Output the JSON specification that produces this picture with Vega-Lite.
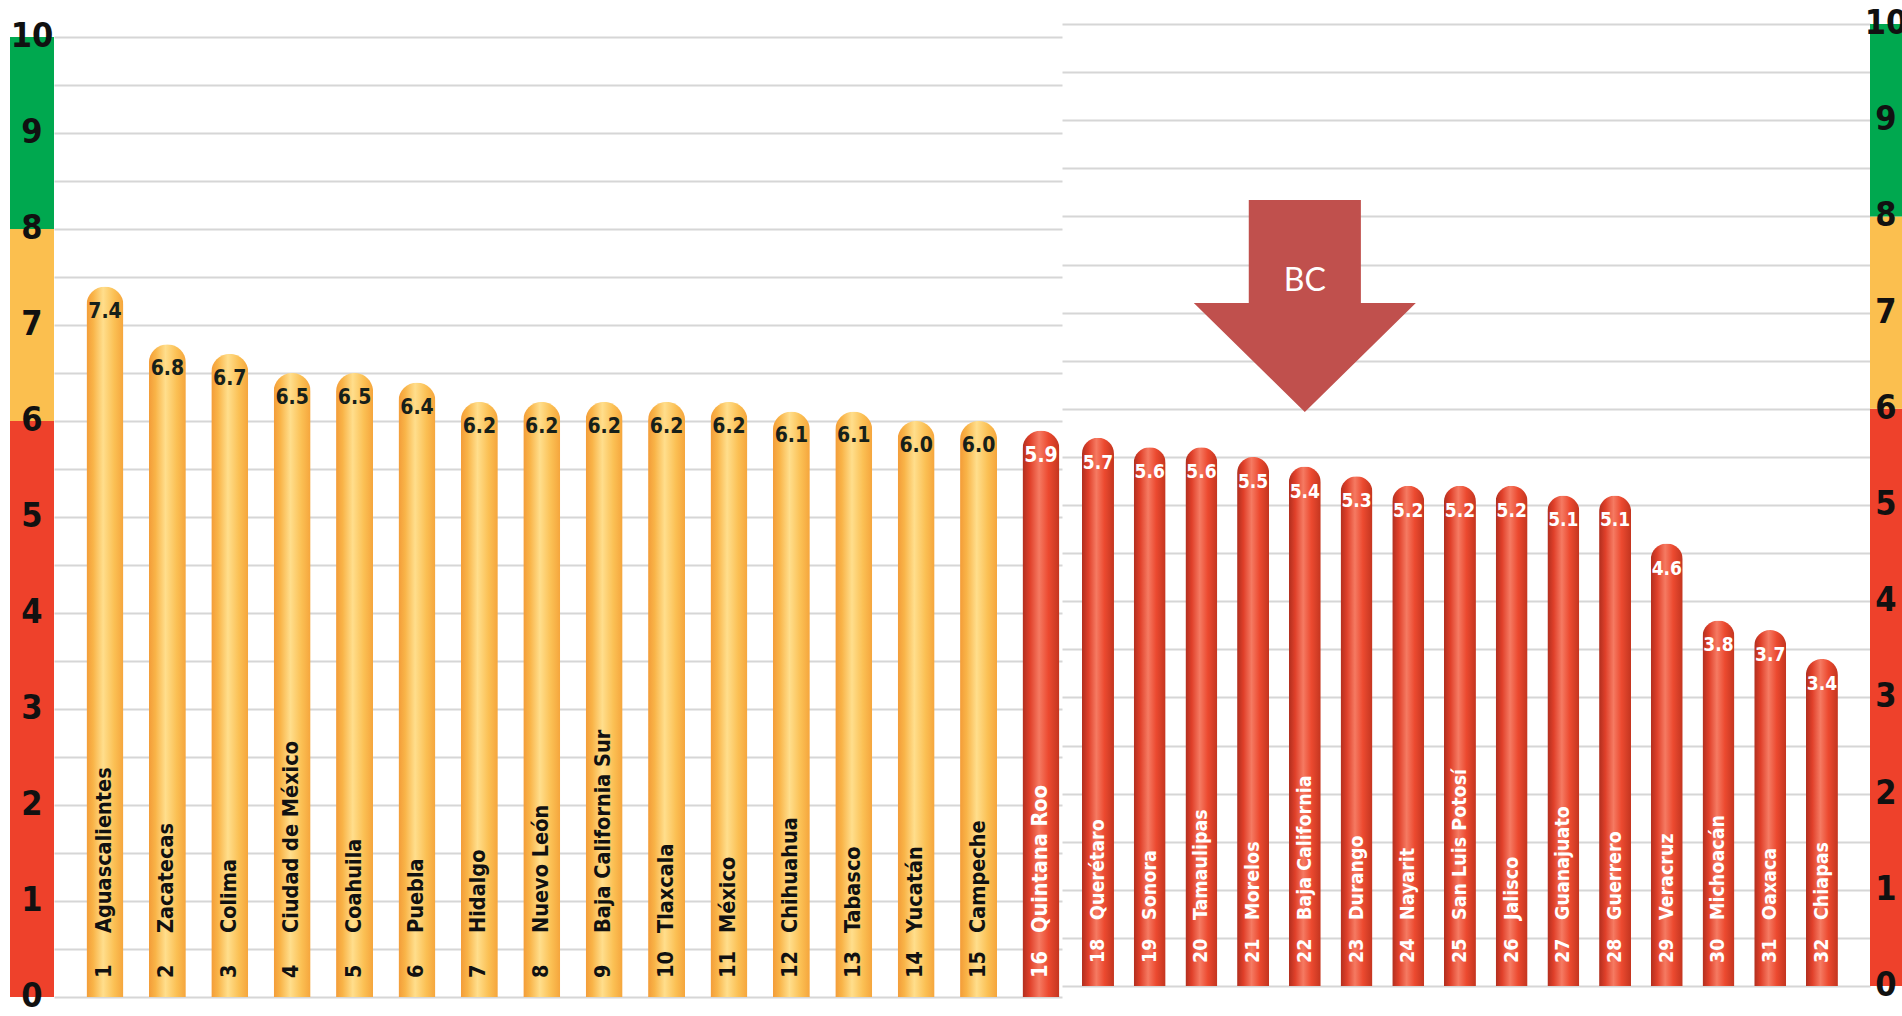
{
  "$schema": "https://vega.github.io/schema/vega-lite/v6.json",
  "padding": {"left": 10, "top": 0, "right": 0, "bottom": 0},
  "autosize": {"type": "pad"},
  "background": "white",
  "spacing": 0,
  "bounds": "flush",
  "config": {"view": {"stroke": null}, "concat": {"spacing": 0}},
  "datasets": {
    "left": [
      {"rank": 1, "state": "Aguascalientes", "value": 7.4},
      {"rank": 2, "state": "Zacatecas", "value": 6.8},
      {"rank": 3, "state": "Colima", "value": 6.7},
      {"rank": 4, "state": "Ciudad de México", "value": 6.5},
      {"rank": 5, "state": "Coahuila", "value": 6.5},
      {"rank": 6, "state": "Puebla", "value": 6.4},
      {"rank": 7, "state": "Hidalgo", "value": 6.2},
      {"rank": 8, "state": "Nuevo León", "value": 6.2},
      {"rank": 9, "state": "Baja California Sur", "value": 6.2},
      {"rank": 10, "state": "Tlaxcala", "value": 6.2},
      {"rank": 11, "state": "México", "value": 6.2},
      {"rank": 12, "state": "Chihuahua", "value": 6.1},
      {"rank": 13, "state": "Tabasco", "value": 6.1},
      {"rank": 14, "state": "Yucatán", "value": 6.0},
      {"rank": 15, "state": "Campeche", "value": 6.0},
      {"rank": 16, "state": "Quintana Roo", "value": 5.9}
    ],
    "right": [
      {"rank": 18, "state": "Querétaro", "value": 5.7},
      {"rank": 19, "state": "Sonora", "value": 5.6},
      {"rank": 20, "state": "Tamaulipas", "value": 5.6},
      {"rank": 21, "state": "Morelos", "value": 5.5},
      {"rank": 22, "state": "Baja California", "value": 5.4},
      {"rank": 23, "state": "Durango", "value": 5.3},
      {"rank": 24, "state": "Nayarit", "value": 5.2},
      {"rank": 25, "state": "San Luis Potosí", "value": 5.2},
      {"rank": 26, "state": "Jalisco", "value": 5.2},
      {"rank": 27, "state": "Guanajuato", "value": 5.1},
      {"rank": 28, "state": "Guerrero", "value": 5.1},
      {"rank": 29, "state": "Veracruz", "value": 4.6},
      {"rank": 30, "state": "Michoacán", "value": 3.8},
      {"rank": 31, "state": "Oaxaca", "value": 3.7},
      {"rank": 32, "state": "Chiapas", "value": 3.4}
    ],
    "bands": [
      {"lo": 0, "hi": 6, "zone": "rojo"},
      {"lo": 6, "hi": 8, "zone": "amarillo"},
      {"lo": 8, "hi": 10, "zone": "verde"}
    ],
    "ticks": [
      {"v": 0}, {"v": 1}, {"v": 2}, {"v": 3}, {"v": 4}, {"v": 5},
      {"v": 6}, {"v": 7}, {"v": 8}, {"v": 9}, {"v": 10}
    ],
    "arrow": [
      {"rank": 22, "value": 7.07, "label": "BC"}
    ],
    "arrowText": [
      {"rank": 22, "value": 7.33, "label": "BC"}
    ]
  },
  "hconcat": [
    {
      "width": 44,
      "height": 997,
      "layer": [
        {
          "data": {"name": "bands"},
          "mark": {"type": "rect"},
          "encoding": {
            "y": {"field": "lo", "type": "quantitative", "scale": {"domain": [0, 10.385], "nice": false, "zero": false}, "axis": null},
            "y2": {"field": "hi"},
            "color": {"field": "zone", "type": "nominal", "scale": {"domain": ["rojo", "amarillo", "verde"], "range": ["#EE412B", "#FBBF4F", "#00A84F"]}, "legend": null}
          }
        },
        {
          "data": {"name": "ticks"},
          "mark": {"type": "text", "font": "DejaVu Sans Condensed, sans-serif", "fontWeight": "bold", "fontSize": 34, "color": "#111111", "baseline": "middle", "align": "center"},
          "encoding": {
            "y": {"field": "v", "type": "quantitative", "scale": {"domain": [0, 10.385], "nice": false, "zero": false}, "axis": null},
            "text": {"field": "v", "type": "quantitative", "format": "d"}
          }
        }
      ]
    },
    {
      "width": 1008,
      "height": 997,
      "data": {"name": "left"},
      "encoding": {
        "x": {"field": "rank", "type": "quantitative", "scale": {"domain": [0.183, 16.337], "nice": false, "zero": false, "padding": 0}, "axis": null},
        "y": {"field": "value", "type": "quantitative", "scale": {"domain": [0, 10.385], "nice": false, "zero": false},
              "axis": {"values": [0, 0.5, 1, 1.5, 2, 2.5, 3, 3.5, 4, 4.5, 5, 5.5, 6, 6.5, 7, 7.5, 8, 8.5, 9, 9.5, 10], "grid": true, "gridColor": "#D6D6D6", "gridWidth": 2, "labels": false, "ticks": false, "domain": false, "title": null, "minExtent": 0, "maxExtent": 0}}
      },
      "layer": [
        {
          "transform": [{"filter": "datum.value >= 6"}],
          "mark": {"type": "bar", "width": 37, "cornerRadiusTopLeft": 18.5, "cornerRadiusTopRight": 18.5,
                   "color": {"gradient": "linear", "x1": 0, "x2": 1, "y1": 0, "y2": 0, "stops": [
                     {"offset": 0, "color": "#F39C38"}, {"offset": 0.18, "color": "#F9B448"}, {"offset": 0.45, "color": "#FFDE8C"}, {"offset": 0.75, "color": "#FBC054"}, {"offset": 1, "color": "#F5A53C"}]}}
        },
        {
          "transform": [{"filter": "datum.value < 6"}],
          "mark": {"type": "bar", "width": 37, "cornerRadiusTopLeft": 18.5, "cornerRadiusTopRight": 18.5,
                   "color": {"gradient": "linear", "x1": 0, "x2": 1, "y1": 0, "y2": 0, "stops": [
                     {"offset": 0, "color": "#B02E1E"}, {"offset": 0.2, "color": "#E0402A"}, {"offset": 0.45, "color": "#F57A62"}, {"offset": 0.7, "color": "#EC4A30"}, {"offset": 1, "color": "#C3351F"}]}}
        },
        {
          "mark": {"type": "text", "font": "DejaVu Sans Condensed, sans-serif", "fontWeight": "bold", "fontSize": 21, "baseline": "middle", "align": "center", "dy": 25},
          "encoding": {
            "text": {"field": "value", "type": "quantitative", "format": ".1f"},
            "color": {"condition": {"test": "datum.value >= 6", "value": "#16201a"}, "value": "#ffffff"}
          }
        },
        {
          "mark": {"type": "text", "font": "DejaVu Sans Condensed, sans-serif", "fontWeight": "bold", "fontSize": 21.5, "baseline": "middle", "align": "left", "angle": 270, "dx": 19},
          "encoding": {
            "y": {"datum": 0},
            "text": {"field": "rank", "type": "nominal"},
            "color": {"condition": {"test": "datum.value >= 6", "value": "#111111"}, "value": "#ffffff"}
          }
        },
        {
          "mark": {"type": "text", "font": "DejaVu Sans Condensed, sans-serif", "fontWeight": "bold", "fontSize": 21.5, "baseline": "middle", "align": "left", "angle": 270, "dx": 64},
          "encoding": {
            "y": {"datum": 0},
            "text": {"field": "state", "type": "nominal"},
            "color": {"condition": {"test": "datum.value >= 6", "value": "#111111"}, "value": "#ffffff"}
          }
        }
      ]
    },
    {
      "width": 808,
      "height": 986,
      "data": {"name": "right"},
      "encoding": {
        "x": {"field": "rank", "type": "quantitative", "scale": {"domain": [17.304, 32.93], "nice": false, "zero": false, "padding": 0}, "axis": null},
        "y": {"field": "value", "type": "quantitative", "scale": {"domain": [0, 10.25], "nice": false, "zero": false},
              "axis": {"values": [0, 0.5, 1, 1.5, 2, 2.5, 3, 3.5, 4, 4.5, 5, 5.5, 6, 6.5, 7, 7.5, 8, 8.5, 9, 9.5, 10], "grid": true, "gridColor": "#D6D6D6", "gridWidth": 2, "labels": false, "ticks": false, "domain": false, "title": null, "minExtent": 0, "maxExtent": 0}}
      },
      "layer": [
        {
          "mark": {"type": "bar", "width": 32, "cornerRadiusTopLeft": 16, "cornerRadiusTopRight": 16,
                   "color": {"gradient": "linear", "x1": 0, "x2": 1, "y1": 0, "y2": 0, "stops": [
                     {"offset": 0, "color": "#B02E1E"}, {"offset": 0.2, "color": "#E0402A"}, {"offset": 0.45, "color": "#F57A62"}, {"offset": 0.7, "color": "#EC4A30"}, {"offset": 1, "color": "#C3351F"}]}}
        },
        {
          "mark": {"type": "text", "font": "DejaVu Sans Condensed, sans-serif", "fontWeight": "bold", "fontSize": 19, "baseline": "middle", "align": "center", "dy": 25, "color": "#ffffff"},
          "encoding": {
            "text": {"field": "value", "type": "quantitative", "format": ".1f"}
          }
        },
        {
          "mark": {"type": "text", "font": "DejaVu Sans Condensed, sans-serif", "fontWeight": "bold", "fontSize": 19.5, "baseline": "middle", "align": "left", "angle": 270, "dx": 23, "color": "#ffffff"},
          "encoding": {
            "y": {"datum": 0},
            "text": {"field": "rank", "type": "nominal"}
          }
        },
        {
          "mark": {"type": "text", "font": "DejaVu Sans Condensed, sans-serif", "fontWeight": "bold", "fontSize": 19.5, "baseline": "middle", "align": "left", "angle": 270, "dx": 66, "color": "#ffffff"},
          "encoding": {
            "y": {"datum": 0},
            "text": {"field": "state", "type": "nominal"}
          }
        },
        {
          "data": {"name": "arrow"},
          "mark": {"type": "point", "filled": true, "opacity": 1, "strokeWidth": 0, "color": "#C0504D", "size": 49284,
                   "shape": "M-0.505,-0.955 L0.505,-0.955 L0.505,-0.027 L1,-0.027 L0,0.955 L-1,-0.027 L-0.505,-0.027 Z"}
        },
        {
          "data": {"name": "arrowText"},
          "mark": {"type": "text", "font": "Lato, Open Sans, sans-serif", "fontSize": 32, "color": "#ffffff", "baseline": "middle", "align": "center"},
          "encoding": {
            "text": {"field": "label", "type": "nominal"}
          }
        }
      ]
    },
    {
      "width": 32,
      "height": 986,
      "layer": [
        {
          "data": {"name": "bands"},
          "mark": {"type": "rect"},
          "encoding": {
            "y": {"field": "lo", "type": "quantitative", "scale": {"domain": [0, 10.25], "nice": false, "zero": false}, "axis": null},
            "y2": {"field": "hi"},
            "color": {"field": "zone", "type": "nominal", "scale": {"domain": ["rojo", "amarillo", "verde"], "range": ["#EE412B", "#FBBF4F", "#00A84F"]}, "legend": null}
          }
        },
        {
          "data": {"name": "ticks"},
          "mark": {"type": "text", "font": "DejaVu Sans Condensed, sans-serif", "fontWeight": "bold", "fontSize": 34, "color": "#111111", "baseline": "middle", "align": "center"},
          "encoding": {
            "y": {"field": "v", "type": "quantitative", "scale": {"domain": [0, 10.25], "nice": false, "zero": false}, "axis": null},
            "text": {"field": "v", "type": "quantitative", "format": "d"}
          }
        }
      ]
    }
  ]
}
